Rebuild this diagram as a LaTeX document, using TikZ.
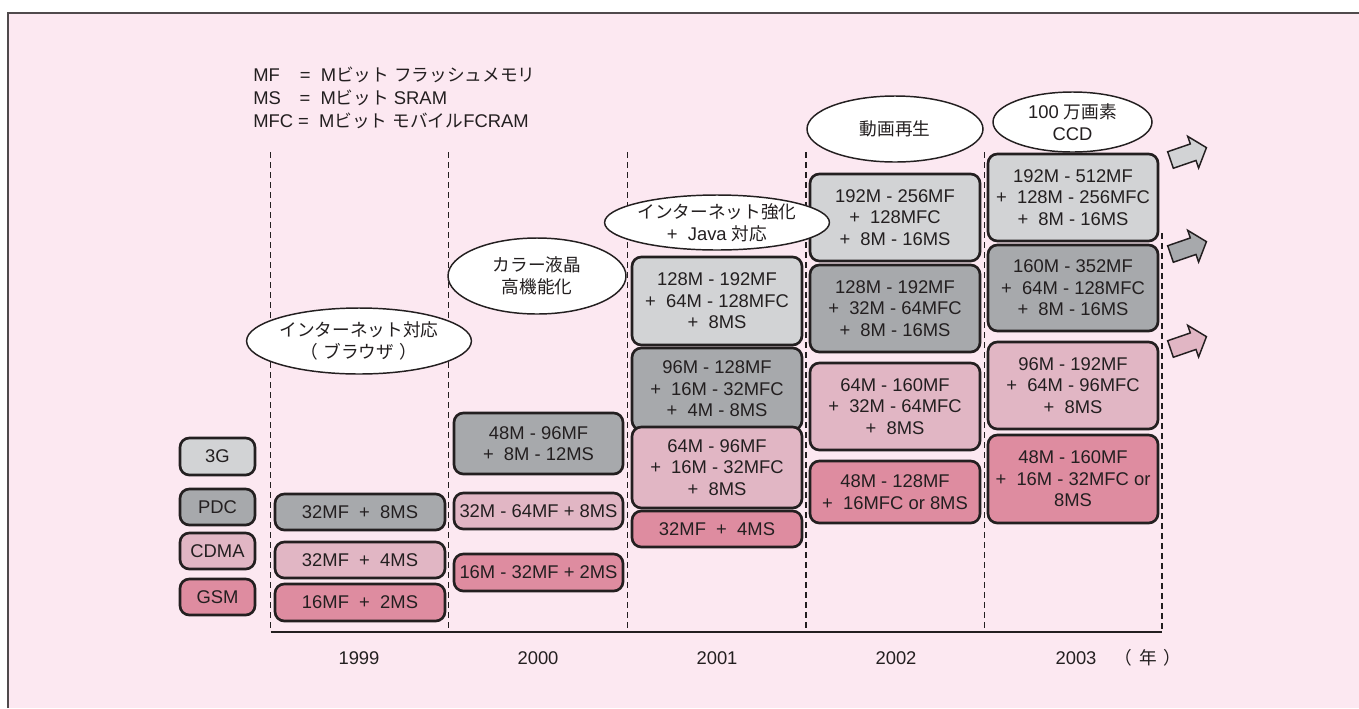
\documentclass[tikz,border=0pt]{standalone}
\usepackage{fontspec}
\setmainfont{Liberation Sans}
\newfontfamily\jp[Scale=0.96]{Noto Sans CJK JP}
\usetikzlibrary{shapes.geometric,shapes.arrows}
\definecolor{bg}{RGB}{252,232,241}
\definecolor{gl}{RGB}{210,211,213}
\definecolor{gd}{RGB}{167,169,172}
\definecolor{pl}{RGB}{225,182,196}
\definecolor{pd}{RGB}{222,140,160}
\definecolor{dk}{RGB}{35,31,32}
\definecolor{fr}{RGB}{80,74,76}
\newcommand\txtfnt{\fontsize{13.8}{16.2}\selectfont}
\tikzset{
  txt/.style={font=\txtfnt, text=dk, inner sep=0pt},
  sz/.style 2 args={minimum width=#1*0.75pt, minimum height=#2*0.75pt},
  mbox/.style={txt, draw=dk, line width=2pt, rounded corners=7pt, align=center},
  bgl/.style={mbox, fill=gl},
  bgd/.style={mbox, fill=gd},
  bpl/.style={mbox, fill=pl},
  bpd/.style={mbox, fill=pd},
  oval/.style={txt, ellipse, draw=dk, line width=1.1pt, fill=white, align=center},
  grid/.style={dk, line width=1pt, dash pattern=on 4.5pt off 3pt},
  axisline/.style={dk, line width=1.1pt},
  arr/.style={single arrow, draw=dk, line width=1.1pt, inner xsep=0pt, inner ysep=6pt,
    single arrow head extend=6pt, single arrow tip angle=100, minimum height=28.5pt, rotate=19}
}
\begin{document}
\begin{tikzpicture}[x=0.75pt,y=-0.75pt]
\useasboundingbox (0,0) rectangle (1359,708);
\fill[white] (0,0) rectangle (1359,708);
\fill[bg] (8,13) rectangle (1359,708);
\draw[fr, line width=1.1pt] (8,708) -- (8,13) -- (1359,13);

% legend text
\node[txt, anchor=west] (lmf) at (253,75) {MF\kern15pt=~ M{\jp ビット} {\jp フラッシュメモリ}};
\node[txt, anchor=west] (lms) at (253,98) {MS\kern14pt=~ M{\jp ビット} SRAM};
\node[txt, anchor=west] (lmfc) at (253,121) {MFC =~ M{\jp ビット} {\jp モバイル}FCRAM};

% grid
\coordinate (g0t) at (270.5,152); \coordinate (g0b) at (270.5,632);
\coordinate (g1t) at (448.5,152); \coordinate (g1b) at (448.5,632);
\coordinate (g2t) at (627.5,152); \coordinate (g2b) at (627.5,632);
\coordinate (g3t) at (806,152);   \coordinate (g3b) at (806,632);
\coordinate (g4t) at (984.5,152); \coordinate (g4b) at (984.5,632);
\coordinate (g5t) at (1162,233);  \coordinate (g5b) at (1162,632);
\foreach \i in {0,...,5} {\draw[grid] (g\i t) -- (g\i b);}
\draw[axisline] (g0b) -- (g5b);

% year labels
\node[txt] (y99) at (359,658) {1999};
\node[txt] (y00) at (538,658) {2000};
\node[txt] (y01) at (717,658) {2001};
\node[txt] (y02) at (896,658) {2002};
\node[txt] (y03) at (1076,658) {2003};
\node[txt] (ynen) at (1148,658) {{\jp （}\kern5pt{\jp 年}\kern5pt{\jp ）}};

% legend boxes
\node[bgl, sz={75}{37}] (l3g) at (217.5,456.5) {3G};
\node[bgd, sz={75}{36}] (lpdc) at (217.5,507) {PDC};
\node[bpl, sz={75}{36}] (lcdma) at (217.5,551) {CDMA};
\node[bpd, sz={75}{36}] (lgsm) at (217.5,597) {GSM};

% 1999
\node[bgd, sz={170}{36}] (a99p) at (360,512) {32MF~~+~~8MS};
\node[bpl, sz={170}{36}] (a99c) at (360,560) {32MF~~+~~4MS};
\node[bpd, sz={170}{37}] (a99g) at (360,602.5) {16MF~~+~~2MS};

% 2000
\node[bgd, sz={169}{61}] (a00p) at (538.5,443.5) {48M - 96MF\\+~~8M - 12MS};
\node[bpl, sz={169}{36}] (a00c) at (538.5,511) {32M - 64MF~+~8MS};
\node[bpd, sz={169}{37}] (a00g) at (538.5,572.5) {16M - 32MF~+~2MS};

% 2001
\node[bgl, sz={170}{88}] (a01s) at (717,301) {128M - 192MF\\+~~64M - 128MFC\\+~~8MS};
\node[bgd, sz={170}{82}] (a01p) at (717,389) {96M - 128MF\\+~~16M - 32MFC\\+~~4M - 8MS};
\node[bpl, sz={170}{81}] (a01c) at (717,467.5) {64M - 96MF\\+~~16M - 32MFC\\+~~8MS};
\node[bpd, sz={170}{36}] (a01g) at (717,529) {32MF~~+~~4MS};

% 2002
\node[bgl, sz={170}{87}] (a02s) at (895,217.5) {192M - 256MF\\+~~128MFC\\+~~8M - 16MS};
\node[bgd, sz={170}{87}] (a02p) at (895,308.5) {128M - 192MF\\+~~32M - 64MFC\\+~~8M - 16MS};
\node[bpl, sz={170}{87}] (a02c) at (895,406.5) {64M - 160MF\\+~~32M - 64MFC\\+~~8MS};
\node[bpd, sz={170}{62}] (a02g) at (895,492) {48M - 128MF\\+~~16MFC or 8MS};

% 2003
\node[bgl, sz={170}{87}] (a03s) at (1073,197.5) {192M - 512MF\\+~~128M - 256MFC\\+~~8M - 16MS};
\node[bgd, sz={170}{86}] (a03p) at (1073,288) {160M - 352MF\\+~~64M - 128MFC\\+~~8M - 16MS};
\node[bpl, sz={170}{87}] (a03c) at (1073,385.5) {96M - 192MF\\+~~64M - 96MFC\\+~~8MS};
\node[bpd, sz={170}{88}] (a03g) at (1073,479) {48M - 160MF\\+~~16M - 32MFC or\\8MS};

% ellipses
\node[oval, sz={180}{66}] (e99) at (359,341) {{\jp インターネット対応}\\{\jp （}\kern4pt{\jp ブラウザ}\kern4pt{\jp ）}};
\node[oval, sz={178}{76}] (e00) at (537,276) {{\jp カラー液晶}\\{\jp 高機能化}};
\node[oval, sz={180}{55}] (e01) at (717,222.5) {{\jp インターネット強化}\\+~~Java {\jp 対応}};
\node[oval, sz={176}{66}] (e02) at (895,129) {{\jp 動画再生}};
\node[oval, sz={159}{60}] (e03) at (1072.5,122) {100 {\jp 万画素}\\CCD};

% arrows
\node[arr, fill=gl] (ar1) at (1185,155) {};
\node[arr, fill=gd] (ar2) at (1185,249) {};
\node[arr, fill=pl] (ar3) at (1185,344) {};
\end{tikzpicture}
\end{document}
